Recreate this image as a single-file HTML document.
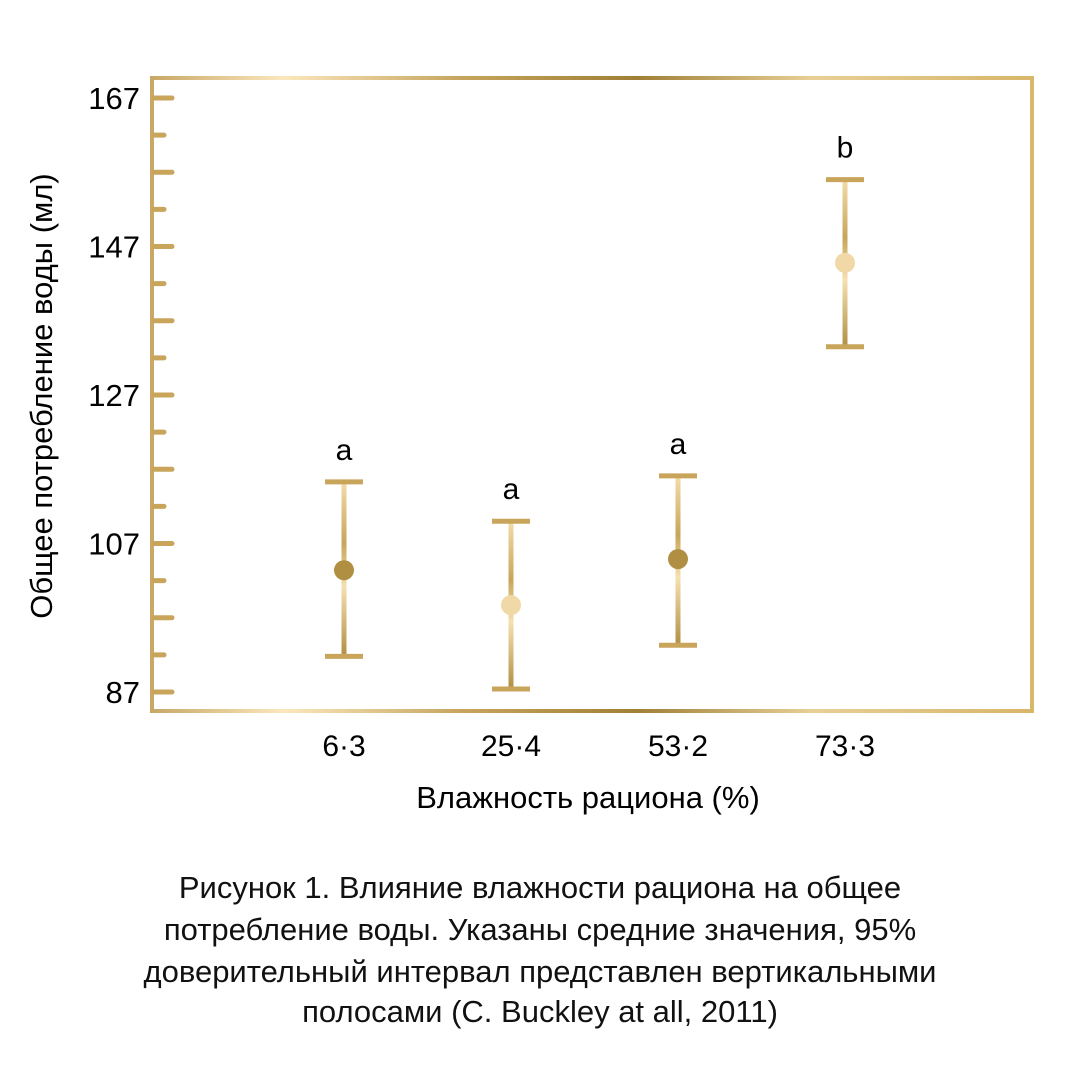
<!DOCTYPE html>
<html><head><meta charset="utf-8"><style>
body{margin:0;background:#fff;width:1080px;height:1080px;overflow:hidden}
svg, svg text{font-family:"Liberation Sans", Arial, sans-serif}
</style></head><body>
<svg width="1080" height="1080" viewBox="0 0 1080 1080">
<defs>
<linearGradient id="gh" x1="0" y1="0" x2="1" y2="0">
<stop offset="0" stop-color="#c9a866"/><stop offset="0.15" stop-color="#fbe7bd"/><stop offset="0.35" stop-color="#c7a55e"/><stop offset="0.55" stop-color="#a07f36"/><stop offset="0.75" stop-color="#e8cf95"/><stop offset="1" stop-color="#d8b66a"/>
</linearGradient>
<linearGradient id="gv" x1="0" y1="0" x2="0" y2="1">
<stop offset="0" stop-color="#f3dcaa"/><stop offset="0.35" stop-color="#c8a55a"/><stop offset="0.6" stop-color="#f5e0b0"/><stop offset="1" stop-color="#b08f43"/>
</linearGradient>
</defs>
<rect x="152" y="78" width="880" height="633" fill="none" stroke="url(#gh)" stroke-width="4"/>
<g id="ticks"></g>
<g id="marks"></g>
<g font-size="30" fill="#000" text-anchor="middle" id="xaxis"></g>
<text x="588" y="808" font-size="31" text-anchor="middle">Влажность рациона (%)</text>
<text transform="translate(52,396) rotate(-90)" font-size="31" text-anchor="middle">Общее потребление воды (мл)</text>
<g font-size="31" text-anchor="middle" fill="#111">
<text x="540" y="898">Рисунок 1. Влияние влажности рациона на общее</text>
<text x="540" y="940">потребление воды. Указаны средние значения, 95%</text>
<text x="540" y="982">доверительный интервал представлен вертикальными</text>
<text x="540" y="1022">полосами (C. Buckley at all, 2011)</text>
</g>
</svg>
<script>
const categories=["6·3","25·4","53·2","73·3"];
const means=[103.4,98.7,104.9,144.8];
const upper=[115.3,110.0,116.1,156.0];
const lower=[91.8,87.4,93.3,133.5];
const letters=["a","a","a","b"];
const yTicks=[87,107,127,147,167];
const NS="http://www.w3.org/2000/svg";
const y=v=>98+(167-v)*7.425;
const x=i=>344+i*167;
function mk(tag,attrs,parent){const e=document.createElementNS(NS,tag);for(const k in attrs)e.setAttribute(k,attrs[k]);parent.appendChild(e);return e;}
const tg=document.getElementById('ticks');
for(let v=87;v<=167;v+=5){
  const major=((167-v)%10===0);
  const t=mk('line',{x1:154,x2:major?172:164,y1:y(v),y2:y(v),stroke:'#c9a55c','stroke-width':5,'stroke-linecap':'round'},tg);
  
  
}
yTicks.forEach(v=>{
  const t=mk('text',{x:140,y:y(v)+11,'font-size':31,'text-anchor':'end'},tg);
  t.textContent=v;
  
  
});
const xg=document.getElementById('xaxis');
categories.forEach((c,i)=>{
  const t=mk('text',{x:x(i),y:756},xg);t.textContent=c;
  
  
});
const mg=document.getElementById('marks');
categories.forEach((c,i)=>{
  const g=mk('g',{},mg);
  
  
  const cx=x(i),yu=y(upper[i]),yl=y(lower[i]);
  mk('rect',{x:cx-2.5,y:yu,width:5,height:yl-yu,fill:'url(#gv)'},g);
  mk('line',{x1:cx-19,x2:cx+19,y1:yu,y2:yu,stroke:'#c9a55c','stroke-width':5},g);
  mk('line',{x1:cx-19,x2:cx+19,y1:yl,y2:yl,stroke:'#c9a55c','stroke-width':5},g);
  const p=mk('circle',{cx:cx,cy:y(means[i]),r:10,fill:i%2?'#f0d9a6':'#b08f43'},g);
  
  
  const l=mk('text',{x:cx,y:yu-22,'font-size':30,'text-anchor':'middle'},g);
  l.textContent=letters[i];
  
  
});
</script>
</body></html>
